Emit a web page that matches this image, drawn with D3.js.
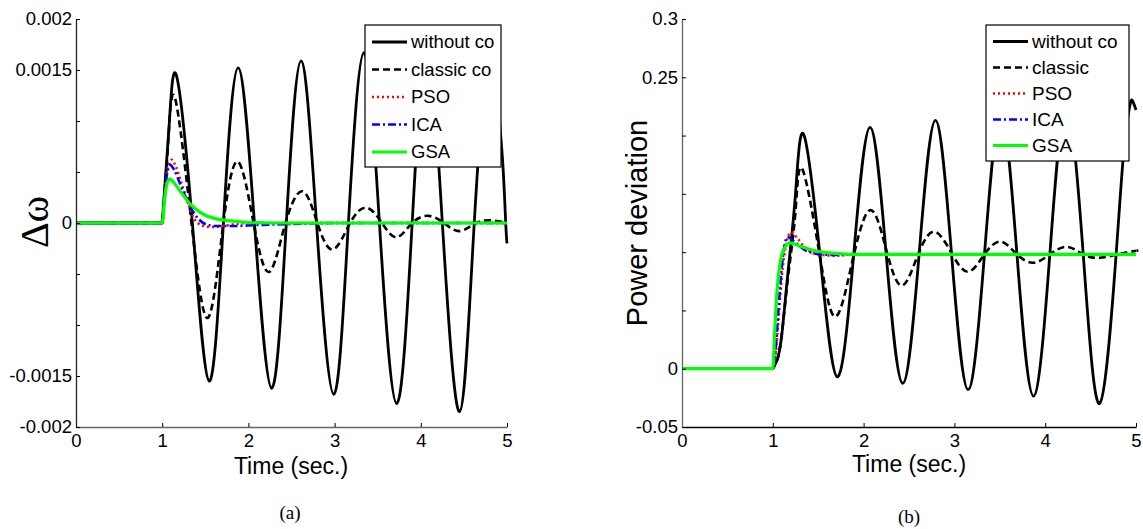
<!DOCTYPE html>
<html><head><meta charset="utf-8">
<script src="https://cdn.jsdelivr.net/npm/d3@7/dist/d3.min.js"></script>
<style>
html,body{margin:0;padding:0;background:#fff;}
svg text{font-family:"Liberation Sans",Arial,sans-serif;fill:#000;}
</style></head>
<body><svg id="chart" width="1143" height="529"></svg>
<script>
// ---------- DATA: panel (a) Δω ----------
const timeWoA = [0, 1.0, 1.08, 1.167, 1.35, 1.545, 1.71, 1.88, 2.07, 2.27, 2.44, 2.61, 2.79, 2.99, 3.16, 3.34, 3.52, 3.72, 3.9, 4.07, 4.25, 4.45, 4.62, 4.80, 4.89, 4.95, 4.985, 5.0];
const woA = [0, 0, 0.00095, 0.00144, 0, -0.00155, 0, 0.00152, 0, -0.00162, 0, 0.00159, 0, -0.00168, 0, 0.00167, 0, -0.00177, 0, 0.00174, 0, -0.00185, 0, 0.00181, 0.00128, 0.0006, 0, -0.0002];
const timeClA = [0, 1.0, 1.07, 1.15, 1.34, 1.53, 1.71, 1.88, 2.06, 2.24, 2.43, 2.63, 2.80, 2.98, 3.18, 3.37, 3.55, 3.72, 3.9, 4.09, 4.27, 4.45, 4.64, 4.83, 5.0];
const classicA = [0, 0, 0.0008, 0.00122, 0, -0.00093, 0, 0.0006, 0, -0.00048, 0, 0.00031, 0, -0.00026, 0, 0.00015, 0, -0.00014, 0, 0.00007, 0, -0.00008, 0, 0.000025, 0];
const timePsoA = [0, 1.0, 1.03, 1.06, 1.11, 1.16, 1.22, 1.3, 1.36, 1.45, 1.56, 1.7, 1.85, 2.0, 2.5, 5.0];
const psoA = [0, 0, 0.0003, 0.00052, 0.00062, 0.00055, 0.0004, 0.00019, 0.00006, -0.00002, -0.00004, -0.00003, -0.00001, 0, 0, 0];
const timeIcaA = [0, 1.0, 1.03, 1.06, 1.09, 1.14, 1.2, 1.3, 1.4, 1.5, 1.62, 1.8, 2.1, 2.5, 3.0, 5.0];
const icaA = [0, 0, 0.0003, 0.0005, 0.00057, 0.00052, 0.0004, 0.0002, 0.00006, -0.00001, -0.00003, -0.00003, -0.00002, -0.00001, 0, 0];
const timeGsaA = [0, 1.0, 1.03, 1.06, 1.09, 1.15, 1.22, 1.32, 1.45, 1.63, 1.8, 2.0, 2.3, 5.0];
const gsaA = [0, 0, 0.00025, 0.0004, 0.00043, 0.00038, 0.0003, 0.00019, 0.0001, 0.00004, 0.00002, 0.000005, 0, 0];

// ---------- DATA: panel (b) Power deviation ----------
const timeWoB = [0, 1.0, 1.05, 1.1, 1.17, 1.25, 1.34, 1.52, 1.71, 1.89, 2.07, 2.25, 2.43, 2.61, 2.79, 2.97, 3.15, 3.33, 3.51, 3.69, 3.87, 4.05, 4.23, 4.42, 4.6, 4.78, 4.87, 4.93, 4.96, 5.0];
const woB = [0, 0, 0.008, 0.03, 0.085, 0.15, 0.201, 0.097, -0.007, 0.097, 0.207, 0.097, -0.0125, 0.097, 0.213, 0.097, -0.018, 0.097, 0.219, 0.097, -0.0235, 0.097, 0.225, 0.097, -0.0297, 0.097, 0.191, 0.225, 0.23, 0.222];
const timeClB = [0, 1.0, 1.05, 1.1, 1.17, 1.25, 1.32, 1.5, 1.68, 1.87, 2.07, 2.25, 2.42, 2.6, 2.78, 2.97, 3.15, 3.33, 3.51, 3.69, 3.87, 4.05, 4.24, 4.42, 4.6, 4.79, 4.99, 5.0];
const classicB = [0, 0, 0.008, 0.03, 0.08, 0.135, 0.172, 0.105, 0.0447, 0.09, 0.136, 0.102, 0.0712, 0.098, 0.1175, 0.099, 0.0832, 0.098, 0.109, 0.098, 0.0909, 0.098, 0.1046, 0.098, 0.0952, 0.098, 0.101, 0.101];
const timePsoB = [0, 1.0, 1.03, 1.06, 1.1, 1.15, 1.2, 1.27, 1.35, 1.45, 1.55, 1.7, 1.9, 5.0];
const psoB = [0, 0, 0.012, 0.04, 0.08, 0.108, 0.117, 0.112, 0.104, 0.099, 0.0975, 0.097, 0.098, 0.098];
const timeIcaB = [0, 1.0, 1.03, 1.06, 1.1, 1.13, 1.16, 1.25, 1.35, 1.45, 1.55, 1.7, 1.9, 5.0];
const icaB = [0, 0, 0.015, 0.048, 0.088, 0.106, 0.113, 0.108, 0.102, 0.099, 0.098, 0.0975, 0.098, 0.098];
const timeGsaB = [0, 1.0, 1.02, 1.04, 1.07, 1.1, 1.14, 1.19, 1.3, 1.48, 1.66, 1.9, 5.0];
const gsaB = [0, 0, 0.03, 0.06, 0.085, 0.098, 0.105, 0.108, 0.105, 0.101, 0.0992, 0.098, 0.098];

// ---------- ticks & labels ----------
const xTicks = [0, 1, 2, 3, 4, 5];
const yTicksA = [-0.002, -0.0015, -0.001, -0.0005, 0, 0.0005, 0.001, 0.0015, 0.002];
const yLabelsA = {"-0.002": "-0.002", "-0.0015": "-0.0015", "0": "0", "0.0015": "0.0015", "0.002": "0.002"};
const yTicksB = [-0.05, 0, 0.05, 0.1, 0.15, 0.2, 0.25, 0.3];
const yLabelsB = {"-0.05": "-0.05", "0": "0", "0.25": "0.25", "0.3": "0.3"};
const legendA = ["without co", "classic co", "PSO", "ICA", "GSA"];
const legendB = ["without co", "classic", "PSO", "ICA", "GSA"];

// ---------- styles ----------
const styles = [
  {color: "#000", width: 2.8, dash: null},
  {color: "#000", width: 2.6, dash: "7,4"},
  {color: "#ff0000", width: 2.6, dash: "2,3"},
  {color: "#0000ff", width: 2.6, dash: "8,3,2,3"},
  {color: "#00ff00", width: 3.2, dash: null}
];

const svg = d3.select("#chart");

function panel(cfg) {
  const x = d3.scaleLinear().domain([0, 5]).range(cfg.xr);
  const y = d3.scaleLinear().domain(cfg.yd).range([427, 19]);
  const g = svg.append("g");

  cfg.series.forEach((s, i) => {
    const st = styles[i];
    const pts = s.t.map((t, k) => [t, s.v[k]]);
    let d;
    if (s.osc) {
      const k1 = s.t.indexOf(1.0);
      const pre = pts.slice(0, k1 + 1);
      const post = pts.slice(k1);
      const lin = d3.line().x(p => x(p[0])).y(p => y(p[1]));
      const nat = d3.line().x(p => x(p[0])).y(p => y(p[1])).curve(d3.curveNatural);
      d = lin(pre) + nat(post).replace(/^M/, "L");
    } else {
      d = d3.line().x(p => x(p[0])).y(p => y(p[1])).curve(d3.curveMonotoneX)(pts);
    }
    g.append("path").attr("d", d).attr("fill", "none")
      .attr("stroke", st.color).attr("stroke-width", st.width)
      .attr("stroke-dasharray", st.dash).attr("stroke-linejoin", "round");
  });

  const xa = g.append("g").attr("transform", "translate(0,427)")
    .call(d3.axisBottom(x).tickValues(xTicks).tickFormat(d3.format("d")).tickSize(-4).tickSizeOuter(0).tickPadding(7));
  xa.select(".domain").attr("stroke", cfg.xAxisColor).attr("stroke-width", 1.3);
  xa.selectAll("text").attr("font-size", "18.5px").attr("font-family", "Liberation Sans, Arial");
  const ya = g.append("g").attr("transform", `translate(${cfg.xr[0]},0)`)
    .call(d3.axisLeft(y).tickValues(cfg.yTicks).tickFormat(v => {
      const key = String(+v.toFixed(6));
      return cfg.yLabels[key] || "";
    }).tickSize(-4).tickSizeOuter(0).tickPadding(4));
  ya.select(".domain").attr("stroke", cfg.yAxisColor).attr("stroke-width", 1.3);
  ya.selectAll("text").attr("font-size", "18.5px").attr("font-family", "Liberation Sans, Arial");

  const L = cfg.legend;
  g.append("rect").attr("x", L.x).attr("y", L.y).attr("width", L.w).attr("height", L.h)
    .attr("fill", "#fff").attr("stroke", "#000").attr("stroke-width", 1.2);
  cfg.legendNames.forEach((name, i) => {
    const st = styles[i];
    const cy = L.y + L.first + i * L.step;
    g.append("line").attr("x1", L.x + 7).attr("x2", L.x + 42).attr("y1", cy).attr("y2", cy)
      .attr("stroke", st.color).attr("stroke-width", st.width).attr("stroke-dasharray", st.dash);
    g.append("text").attr("x", L.x + 46).attr("y", cy).attr("dy", "0.35em")
      .attr("font-size", L.fs + "px").text(name);
  });
  return {x, y, g};
}

panel({
  xr: [76, 507], yd: [-0.002, 0.002], yTicks: yTicksA, yLabels: yLabelsA,
  xAxisColor: "#666", yAxisColor: "#222",
  series: [
    {t: timeWoA, v: woA, osc: true},
    {t: timeClA, v: classicA, osc: true},
    {t: timePsoA, v: psoA},
    {t: timeIcaA, v: icaA},
    {t: timeGsaA, v: gsaA}
  ],
  legend: {x: 365, y: 25, w: 136, h: 142, first: 17, step: 27.5, fs: 18.5},
  legendNames: legendA
});

panel({
  xr: [682, 1136], yd: [-0.05, 0.3], yTicks: yTicksB, yLabels: yLabelsB,
  xAxisColor: "#000", yAxisColor: "#666",
  series: [
    {t: timeWoB, v: woB, osc: true},
    {t: timeClB, v: classicB, osc: true},
    {t: timePsoB, v: psoB},
    {t: timeIcaB, v: icaB},
    {t: timeGsaB, v: gsaB}
  ],
  legend: {x: 986, y: 25, w: 143, h: 136, first: 16.5, step: 26, fs: 19},
  legendNames: legendB
});

svg.append("text").attr("transform", "translate(48,222) rotate(-90)")
  .attr("text-anchor", "middle").style("font-family", "Liberation Serif, Times New Roman, serif")
  .attr("font-size", "40px").text("Δω");
svg.append("text").attr("transform", "translate(647,223) rotate(-90)")
  .attr("text-anchor", "middle").attr("font-size", "29px").text("Power deviation");
svg.append("text").attr("x", 291).attr("y", 474).attr("text-anchor", "middle")
  .attr("font-size", "23px").text("Time (sec.)");
svg.append("text").attr("x", 909).attr("y", 472).attr("text-anchor", "middle")
  .attr("font-size", "23px").text("Time (sec.)");
svg.append("text").attr("x", 290).attr("y", 519).attr("text-anchor", "middle")
  .style("font-family", "Liberation Serif, Times New Roman, serif").attr("font-size", "19px").text("(a)");
svg.append("text").attr("x", 909).attr("y", 523).attr("text-anchor", "middle")
  .style("font-family", "Liberation Serif, Times New Roman, serif").attr("font-size", "19px").text("(b)");
</script>
</body></html>
